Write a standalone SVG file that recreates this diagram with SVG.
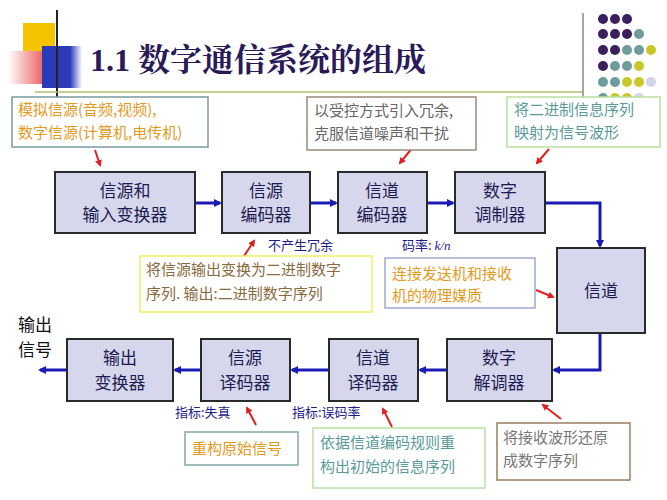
<svg xmlns="http://www.w3.org/2000/svg" width="667" height="500" viewBox="0 0 667 500">
<defs>
<style>
text{font-family:"Noto Sans CJK SC","Liberation Sans",sans-serif}
.box{fill:#d6d6ec;stroke:#2a2a2a;stroke-width:2}
.bt{font-size:17px;fill:#1c1c50;text-anchor:middle}
.flow{stroke:#1a1ab4;stroke-width:3;fill:none}
.red{stroke:#e02020;stroke-width:2;fill:none}
.lbl{font-size:13px;fill:#1c1c8c}
.ann{fill:#fff;stroke-width:1.5}
.at{font-size:15px}
</style>
<marker id="ab" markerWidth="8" markerHeight="8" refX="6" refY="4" orient="auto" markerUnits="userSpaceOnUse"><path d="M0,0L8,4L0,8z" fill="#1a1ab4"/></marker>
<marker id="ar" markerWidth="7" markerHeight="7" refX="5" refY="3.5" orient="auto" markerUnits="userSpaceOnUse"><path d="M0,0L7,3.5L0,7z" fill="#e02020"/></marker>
<linearGradient id="rg" x1="0" x2="1"><stop offset="0" stop-color="#fff"/><stop offset="1" stop-color="#e84040"/></linearGradient>
<linearGradient id="bg" x1="0" x2="1"><stop offset="0" stop-color="#2a3ab8"/><stop offset="0.7" stop-color="#2a3ab8"/><stop offset="1" stop-color="#fff"/></linearGradient>
</defs>
<g id="decor">
<rect x="23" y="23" width="32" height="32" fill="#f5c400"/>
<rect x="8" y="51" width="43" height="33" fill="url(#rg)"/>
<rect x="42" y="46" width="40" height="42" fill="url(#bg)"/>
<line x1="57" y1="10" x2="57" y2="108" stroke="#222" stroke-width="2"/>
<line x1="35" y1="92" x2="583" y2="92" stroke="#b8b870" stroke-width="1.5"/>
<line x1="583" y1="13" x2="583" y2="128" stroke="#888" stroke-width="1.5"/>
<g id="dots">
<g fill="#3b1f5e"><circle cx="603" cy="19" r="5"/><circle cx="615" cy="19" r="5"/><circle cx="627" cy="19" r="5"/><circle cx="603" cy="34" r="5"/><circle cx="615" cy="34" r="5"/><circle cx="627" cy="34" r="5"/><circle cx="603" cy="50" r="5"/><circle cx="615" cy="50" r="5"/><circle cx="603" cy="66" r="5"/></g>
<g fill="#6e9c9c"><circle cx="639" cy="34" r="5"/><circle cx="627" cy="50" r="5"/><circle cx="639" cy="50" r="5"/><circle cx="615" cy="66" r="5"/><circle cx="627" cy="66" r="5"/><circle cx="603" cy="82" r="5"/><circle cx="615" cy="82" r="5"/><circle cx="603" cy="98" r="5"/></g>
<g fill="#c8c82a"><circle cx="651" cy="50" r="5"/><circle cx="639" cy="66" r="5"/><circle cx="627" cy="82" r="5"/><circle cx="639" cy="82" r="5"/><circle cx="615" cy="98" r="5"/><circle cx="627" cy="98" r="5"/><circle cx="603" cy="114" r="5"/><circle cx="615" cy="114" r="5"/></g>
<g fill="#d4d4e8"><circle cx="651" cy="82" r="5"/><circle cx="639" cy="98" r="5"/><circle cx="627" cy="114" r="5"/><circle cx="639" cy="114" r="5"/><circle cx="615" cy="128" r="5"/><circle cx="639" cy="128" r="5"/></g>
</g>
<text x="90" y="71" style="font-family:'Liberation Serif','Noto Serif CJK SC','Noto Sans CJK SC',serif;font-size:32px;font-weight:bold;fill:#2a1a5a">1.1 数字通信系统的组成</text>
<text x="624" y="481" style="font-size:9px;fill:#333">4</text>
</g>
<g id="connectors">
<line class="flow" x1="195" y1="203" x2="220" y2="203" marker-end="url(#ab)"/>
<line class="flow" x1="310" y1="203" x2="336" y2="203" marker-end="url(#ab)"/>
<line class="flow" x1="427" y1="203" x2="453" y2="203" marker-end="url(#ab)"/>
<polyline class="flow" points="545,203 600,203 600,246" marker-end="url(#ab)"/>
<polyline class="flow" points="600,333 600,370 554,370" marker-end="url(#ab)"/>
<line class="flow" x1="447" y1="370" x2="420" y2="370" marker-end="url(#ab)"/>
<line class="flow" x1="329" y1="370" x2="292" y2="370" marker-end="url(#ab)"/>
<line class="flow" x1="201" y1="370" x2="175" y2="370" marker-end="url(#ab)"/>
<line class="flow" x1="67" y1="370" x2="40" y2="370" marker-end="url(#ab)"/>
<line class="red" x1="95" y1="150" x2="100" y2="165" marker-end="url(#ar)"/>
<line class="red" x1="413" y1="147" x2="400" y2="163" marker-end="url(#ar)"/>
<line class="red" x1="549" y1="149" x2="537" y2="163" marker-end="url(#ar)"/>
<line class="red" x1="240" y1="262" x2="254" y2="241" marker-end="url(#ar)"/>
<line class="red" x1="536" y1="290" x2="553" y2="297" marker-end="url(#ar)"/>
<line class="red" x1="256" y1="425" x2="247" y2="408" marker-end="url(#ar)"/>
<line class="red" x1="392" y1="427" x2="383" y2="409" marker-end="url(#ar)"/>
<line class="red" x1="561" y1="419" x2="543" y2="405" marker-end="url(#ar)"/>
</g>
<g id="n1"><rect class="box" x="55" y="172" width="140" height="61"/><text class="bt" x="125" y="197">信源和</text><text class="bt" x="125" y="221">输入变换器</text></g>
<g id="n2"><rect class="box" x="222" y="172" width="88" height="61"/><text class="bt" x="266" y="197">信源</text><text class="bt" x="266" y="221">编码器</text></g>
<g id="n3"><rect class="box" x="338" y="172" width="89" height="61"/><text class="bt" x="382" y="197">信道</text><text class="bt" x="382" y="221">编码器</text></g>
<g id="n4"><rect class="box" x="455" y="172" width="90" height="61"/><text class="bt" x="500" y="197">数字</text><text class="bt" x="500" y="221">调制器</text></g>
<g id="n5"><rect class="box" x="557" y="248" width="88" height="85"/><text class="bt" x="601" y="297">信道</text></g>
<g id="n6"><rect class="box" x="447" y="339" width="105" height="62"/><text class="bt" x="499" y="364">数字</text><text class="bt" x="499" y="389">解调器</text></g>
<g id="n7"><rect class="box" x="329" y="339" width="89" height="62"/><text class="bt" x="373" y="364">信道</text><text class="bt" x="373" y="389">译码器</text></g>
<g id="n8"><rect class="box" x="201" y="339" width="89" height="62"/><text class="bt" x="245" y="364">信源</text><text class="bt" x="245" y="389">译码器</text></g>
<g id="n9"><rect class="box" x="67" y="339" width="106" height="62"/><text class="bt" x="120" y="364">输出</text><text class="bt" x="120" y="389">变换器</text></g>
<g id="out"><text x="18" y="331" style="font-size:17px;fill:#111">输出</text><text x="18" y="356" style="font-size:17px;fill:#111">信号</text></g>
<g id="labels">
<text class="lbl" x="268" y="250">不产生冗余</text>
<text class="lbl" x="402" y="250">码率: <tspan font-style="italic" font-family="Liberation Serif">k/n</tspan></text>
<text class="lbl" x="175" y="417">指标:失真</text>
<text class="lbl" x="292" y="417">指标:误码率</text>
</g>
<g id="a1"><rect class="ann" x="12" y="97" width="196" height="50" stroke="#7a9aa0"/><text class="at" x="18" y="115" fill="#e39a1e">模拟信源(音频,视频),</text><text class="at" x="18" y="138" fill="#e39a1e">数字信源(计算机,电传机)</text></g>
<g id="a2"><rect class="ann" x="307" y="97" width="169" height="53" stroke="#9a8a7a"/><text class="at" x="314" y="116" fill="#666">以受控方式引入冗余,</text><text class="at" x="314" y="139" fill="#666">克服信道噪声和干扰</text></g>
<g id="a3"><rect class="ann" x="507" y="97" width="153" height="50" stroke="#b8e0a0"/><text class="at" x="514" y="115" fill="#5a9a9a">将二进制信息序列</text><text class="at" x="514" y="138" fill="#5a9a9a">映射为信号波形</text></g>
<g id="a4"><rect class="ann" x="140" y="256" width="232" height="56" stroke="#f0f060"/><text class="at" x="146" y="275" fill="#8a6a40">将信源输出变换为二进制数字</text><text class="at" x="146" y="299" fill="#8a6a40">序列. 输出:二进制数字序列</text></g>
<g id="a5"><rect class="ann" x="385" y="258" width="150" height="50" stroke="#a0a8d0"/><text class="at" x="392" y="279" fill="#e39a1e">连接发送机和接收</text><text class="at" x="392" y="301" fill="#e39a1e">机的物理媒质</text></g>
<g id="a6"><rect class="ann" x="185" y="432" width="113" height="33" stroke="#80a8a8"/><text class="at" x="192" y="454" fill="#e39a1e">重构原始信号</text></g>
<g id="a7"><rect class="ann" x="313" y="428" width="172" height="60" stroke="#b8e0a0"/><text class="at" x="320" y="448" fill="#5a9a9a">依据信道编码规则重</text><text class="at" x="320" y="472" fill="#5a9a9a">构出初始的信息序列</text></g>
<g id="a8"><rect class="ann" x="497" y="423" width="133" height="57" stroke="#9a8060"/><text class="at" x="503" y="443" fill="#777">将接收波形还原</text><text class="at" x="503" y="466" fill="#777">成数字序列</text></g>
</svg>
